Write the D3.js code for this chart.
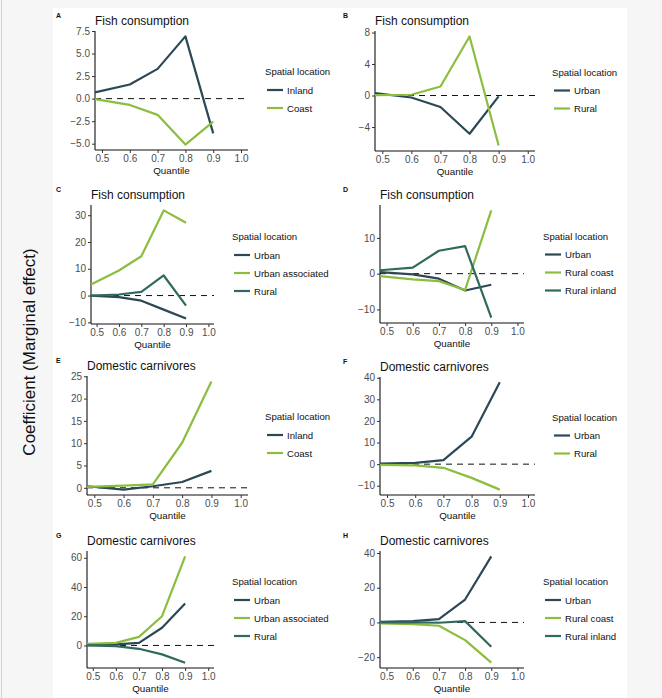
<!DOCTYPE html>
<html>
<head>
<meta charset="utf-8">
<script src="https://cdn.jsdelivr.net/npm/d3@7"></script>
<style>
  body { margin: 0; background: #f6f6f6; }
  text { font-family: "Liberation Sans", Arial, sans-serif; }
</style>
</head>
<body>
<svg id="chart" width="662" height="698"></svg>
<script>
// quantiles: the first point sits at the panel's left edge (lines run in from outside the 0.5 limit)
var quantiles = [0.475, 0.6, 0.7, 0.8, 0.9];
var xTicks = [0.5, 0.6, 0.7, 0.8, 0.9, 1.0];

var titles = ["Fish consumption", "Fish consumption", "Fish consumption", "Fish consumption",
              "Domestic carnivores", "Domestic carnivores", "Domestic carnivores", "Domestic carnivores"];
var tags = ["A", "B", "C", "D", "E", "F", "G", "H"];

var namesA = ["Inland", "Coast"];
var namesB = ["Urban", "Rural"];
var namesC = ["Urban", "Urban associated", "Rural"];
var namesD = ["Urban", "Rural coast", "Rural inland"];

// A: fish, inland / coast
var fishInland = [0.7, 1.57, 3.3, 6.9, -3.85];
var fishCoast = [-0.05, -0.7, -1.8, -5.1, -2.55];
// B: fish, urban / rural
var fishUrbanB = [0.3, -0.25, -1.45, -4.85, -0.1];
var fishRuralB = [0.05, 0.1, 1.15, 7.5, -6.35];
// C: fish, urban / urban associated / rural
var fishUrbanC = [0, -0.6, -1.9, -5.25, -8.6];
var fishUrbanAssoc = [4.1, 9.35, 14.7, 31.8, 27.2];
var fishRuralC = [0, 0.4, 1.35, 7.5, -3.75];
// D: fish, urban / rural coast / rural inland
var fishUrbanD = [0.45, -0.2, -1.4, -4.7, -3.1];
var fishRuralCoast = [-0.7, -1.6, -2.1, -4.55, 17.7];
var fishRuralInland = [0.95, 1.7, 6.4, 7.7, -12.3];
// E: carnivores, inland / coast
var carnInland = [0.35, -0.4, 0.35, 1.3, 3.8];
var carnCoast = [0.2, 0.5, 0.75, 10.1, 23.85];
// F: carnivores, urban / rural
var carnUrbanF = [0.3, 0.6, 1.9, 12.7, 37.85];
var carnRuralF = [-0.3, -0.6, -1.7, -6.35, -11.8];
// G: carnivores, urban / urban associated / rural
var carnUrbanG = [0.2, 0.7, 1.8, 12.1, 28.7];
var carnUrbanAssoc = [1.15, 1.8, 5.9, 20, 61];
var carnRuralG = [0, -0.5, -2.3, -6.1, -11.8];
// H: carnivores, urban / rural coast / rural inland
var carnUrbanH = [0.35, 0.75, 1.9, 13.2, 38.1];
var carnRuralCoast = [-0.6, -1, -1.9, -10.2, -23.2];
var carnRuralInland = [0, 0, -0.2, 0.75, -14];

var yTicksA = [-5, -2.5, 0, 2.5, 5, 7.5];
var yTicksB = [-4, 0, 4, 8];
var yTicksC = [-10, 0, 10, 20, 30];
var yTicksD = [-10, 0, 10];
var yTicksE = [0, 5, 10, 15, 20, 25];
var yTicksF = [-10, 0, 10, 20, 30, 40];
var yTicksG = [0, 20, 40, 60];
var yTicksH = [-20, 0, 20, 40];

var dark = "#2c4856", green = "#8cbd3e", teal = "#2e6b5c";

var panels = [
  { names: namesA, series: [fishInland, fishCoast], colors: [dark, green], ticks: yTicksA, fmt: ".1f",
    x0: 95, x1: 248, y0: 31, y1: 150, lx: 265 },
  { names: namesB, series: [fishUrbanB, fishRuralB], colors: [dark, green], ticks: yTicksB, fmt: "d",
    x0: 375, x1: 535, y0: 31, y1: 151, lx: 552 },
  { names: namesC, series: [fishUrbanC, fishUrbanAssoc, fishRuralC], colors: [dark, green, teal], ticks: yTicksC, fmt: "d",
    x0: 91, x1: 214, y0: 205, y1: 324, lx: 232 },
  { names: namesD, series: [fishUrbanD, fishRuralCoast, fishRuralInland], colors: [dark, green, teal], ticks: yTicksD, fmt: "d",
    x0: 380, x1: 524, y0: 205, y1: 323, lx: 543 },
  { names: namesA, series: [carnInland, carnCoast], colors: [dark, green], ticks: yTicksE, fmt: "d",
    x0: 87, x1: 248, y0: 376, y1: 495, lx: 265 },
  { names: namesB, series: [carnUrbanF, carnRuralF], colors: [dark, green], ticks: yTicksF, fmt: "d",
    x0: 380, x1: 535, y0: 377, y1: 495, lx: 552 },
  { names: namesC, series: [carnUrbanG, carnUrbanAssoc, carnRuralG], colors: [dark, green, teal], ticks: yTicksG, fmt: "d",
    x0: 87, x1: 214, y0: 551, y1: 668, lx: 232 },
  { names: namesD, series: [carnUrbanH, carnRuralCoast, carnRuralInland], colors: [dark, green, teal], ticks: yTicksH, fmt: "d",
    x0: 380, x1: 524, y0: 551, y1: 668, lx: 543 }
];

var svg = d3.select("#chart");

// white figure area on the grey page
svg.append("rect").attr("x", 53).attr("y", 8).attr("width", 574).attr("height", 690).attr("fill", "#fff");
svg.append("line").attr("x1", 1.5).attr("x2", 1.5).attr("y1", 0).attr("y2", 698)
  .attr("stroke", "#d4d4d4").attr("stroke-width", 1);

svg.append("text")
  .attr("transform", "translate(35,352) rotate(-90)")
  .attr("text-anchor", "middle")
  .attr("font-size", 17)
  .attr("fill", "#111")
  .text("Coefficient (Marginal effect)");

panels.forEach(function(p, i) {
  var g = svg.append("g");

  var all = d3.merge(p.series);
  var ext = d3.extent(all);
  var pad = (ext[1] - ext[0]) * 0.05;

  var x = d3.scaleLinear().domain([0.475, 1.025]).range([p.x0, p.x1]);
  var y = d3.scaleLinear().domain([ext[0] - pad, ext[1] + pad]).range([p.y1, p.y0]);

  // panel tag and title
  g.append("text")
    .attr("x", i % 2 ? 343 : 56).attr("y", p.y0 - 13)
    .attr("font-size", 7).attr("font-weight", "bold").attr("fill", "#111")
    .text(tags[i]);
  g.append("text")
    .attr("x", p.x0).attr("y", p.y0 - 6)
    .attr("font-size", 12).attr("fill", "#111")
    .text(titles[i]);

  // axes
  var xAxis = g.append("g")
    .attr("transform", "translate(0," + p.y1 + ")")
    .call(d3.axisBottom(x).tickValues(xTicks).tickFormat(d3.format(".1f")).tickSize(3).tickPadding(2));
  var yAxis = g.append("g")
    .attr("transform", "translate(" + p.x0 + ",0)")
    .call(d3.axisLeft(y).tickValues(p.ticks).tickFormat(d3.format(p.fmt)).tickSize(3).tickPadding(2));

  [xAxis, yAxis].forEach(function(a) {
    a.select(".domain").attr("stroke", "#111").attr("stroke-width", 1.1);
    a.selectAll(".tick line").attr("stroke", "#333");
    a.selectAll(".tick text").attr("fill", "#4d4d4d").attr("font-size", 10)
      .style("font-family", '"Liberation Sans", Arial, sans-serif');
  });
  xAxis.select(".domain").attr("d", "M" + p.x0 + ",0H" + p.x1);
  yAxis.select(".domain").attr("d", "M0," + p.y0 + "V" + p.y1);

  g.append("text")
    .attr("x", (p.x0 + p.x1) / 2).attr("y", p.y1 + 24)
    .attr("text-anchor", "middle").attr("font-size", 9.8).attr("fill", "#111")
    .text("Quantile");

  // zero reference
  g.append("line")
    .attr("x1", p.x0).attr("x2", p.x1)
    .attr("y1", y(0)).attr("y2", y(0))
    .attr("stroke", "#111").attr("stroke-width", 1)
    .attr("stroke-dasharray", "6,5");

  var line = d3.line()
    .x(function(d, k) { return x(quantiles[k]); })
    .y(function(d) { return y(d); });

  p.series.forEach(function(s, k) {
    g.append("path")
      .datum(s)
      .attr("d", line)
      .attr("fill", "none")
      .attr("stroke", p.colors[k])
      .attr("stroke-width", 2.2)
      .attr("stroke-linejoin", "round");
  });

  // legend
  var n = p.names.length;
  var cy = (p.y0 + p.y1) / 2;
  var ty = cy - n * 9 - 1;
  g.append("text")
    .attr("x", p.lx).attr("y", ty + 3.5)
    .attr("font-size", 9.6).attr("fill", "#111")
    .text("Spatial location");
  p.names.forEach(function(name, k) {
    var ky = ty + 18 * (k + 1) + 0.5;
    g.append("line")
      .attr("x1", p.lx + 2).attr("x2", p.lx + 18)
      .attr("y1", ky).attr("y2", ky)
      .attr("stroke", p.colors[k]).attr("stroke-width", 2.2);
    g.append("text")
      .attr("x", p.lx + 22).attr("y", ky + 3.5)
      .attr("font-size", 9.6).attr("fill", "#111")
      .text(name);
  });
});
</script>
</body>
</html>
